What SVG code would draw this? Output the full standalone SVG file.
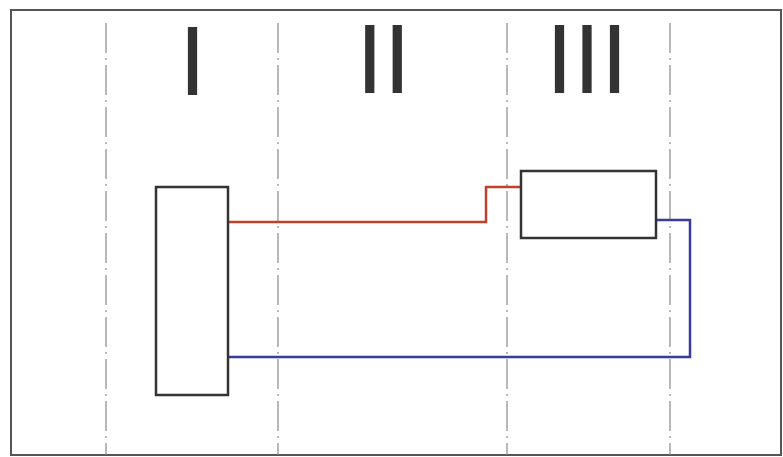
<svg xmlns="http://www.w3.org/2000/svg" width="783" height="457" viewBox="0 0 783 457">
<style>
.frame{fill:#fff;stroke:#555;stroke-width:2}
.div{stroke:#8a8a8a;stroke-width:1.2;stroke-dasharray:30 5 2 5;fill:none}
.num{fill:#333;font-family:"Liberation Sans",Arial,sans-serif;font-size:99px;text-anchor:middle}
.box{fill:#fff;stroke:#333;stroke-width:2.5}
.red{fill:none;stroke:#c0402c;stroke-width:2.5}
.blue{fill:none;stroke:#3a3c9c;stroke-width:2.5}
</style>
<rect class="frame" x="11" y="10" width="770" height="445"/>
<g id="dividers">
<line class="div" x1="106" y1="23" x2="106" y2="455"/>
<line class="div" x1="278" y1="23" x2="278" y2="455"/>
<line class="div" x1="507" y1="23" x2="507" y2="455"/>
<line class="div" x1="670" y1="23" x2="670" y2="455"/>
</g>
<g id="labels">
<text class="num" x="192.5" y="95">I</text>
<text class="num" x="383.5" y="93">II</text>
<text class="num" x="587" y="93">III</text>
</g>
<g id="connectors">
<polyline class="red" points="228,222 486,222 486,187 521,187"/>
<polyline class="blue" points="656,220 690,220 690,357 228,357"/>
</g>
<g id="node-left">
<rect class="box" x="156" y="187" width="72" height="208"/>
</g>
<g id="node-right">
<rect class="box" x="521" y="171" width="135" height="67"/>
</g>
</svg>
